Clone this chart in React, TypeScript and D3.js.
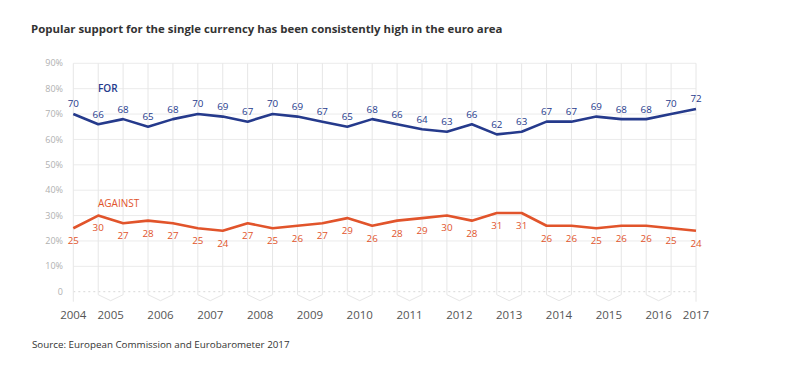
import React from "react";
import * as d3 from "d3";

const years = ["2004","2005","2006","2007","2008","2009","2010","2011","2012","2013","2014","2015","2016","2017"];
const forValues = [70,66,68,65,68,70,69,67,70,69,67,65,68,66,64,63,66,62,63,67,67,69,68,68,70,72];
const againstValues = [25,30,27,28,27,25,24,27,25,26,27,29,26,28,29,30,28,31,31,26,26,25,26,26,25,24];
const yTicks = [0,10,20,30,40,50,60,70,80,90];

const FONT = "'Open Sans', 'Noto Sans', sans-serif";
const BLUE = "#253a8c";
const ORANGE = "#e1542b";

export default function App() {
  const W = 800, H = 388;
  const n = forValues.length;
  const x = d3.scaleLinear().domain([0, n - 1]).range([73.3, 696]);
  const y = d3.scaleLinear().domain([0, 90]).range([291.7, 63.3]);
  const idx = d3.range(n);
  const line = d3.line<number>().x((_, i) => x(i)).y(d => y(d));

  const yearPos = (k: number) => {
    if (k === 0) return x(0);
    if (k === years.length - 1) return x(n - 1);
    return (x(2 * k - 1) + x(2 * k)) / 2;
  };

  const base = y(0);
  return (
    <svg width={W} height={H} style={{ position: "absolute", left: 0, top: 0, background: "#fff" }} fontFamily={FONT}>
      <text x={31} y={33} fontSize={11.4} fontWeight={700} fill="#333">
        Popular support for the single currency has been consistently high in the euro area
      </text>
      {/* horizontal grid */}
      {yTicks.map(t => (
        <g key={t}>
          <line x1={x(0)} x2={x(n - 1)} y1={y(t)} y2={y(t)}
            stroke={t === 0 ? "#d8d8d8" : "#ebebeb"} strokeWidth={1}
            strokeDasharray={t === 0 ? "2,3" : undefined} />
          <text x={63} y={y(t)} dy="0.35em" textAnchor="end" fontSize={9} fill="#b0b0b0">
            {t === 0 ? "0" : `${t}%`}
          </text>
        </g>
      ))}
      {/* vertical grid */}
      {idx.map(i => (
        <line key={i} x1={x(i)} x2={x(i)} y1={y(90)} y2={i === 0 || i === n - 1 ? base + 10 : base + 3}
          stroke="#e6e6e6" strokeWidth={1} />
      ))}
      {/* chevrons */}
      {years.slice(1, years.length - 1).map((_, j) => {
        const k = j + 1;
        const a = x(2 * k - 1), b = x(2 * k), m = (a + b) / 2;
        return (
          <path key={k} d={`M${a},${base + 3}L${m},${base + 9}L${b},${base + 3}`}
            fill="none" stroke="#e6e6e6" strokeWidth={1} />
        );
      })}
      {/* year labels */}
      {years.map((yr, k) => (
        <text key={yr} x={yearPos(k)} y={319} textAnchor="middle" fontSize={11.5} fill="#555">{yr}</text>
      ))}
      {/* lines */}
      <path d={line(forValues) || ""} fill="none" stroke={BLUE} strokeWidth={2.6} strokeLinejoin="round" />
      <path d={line(againstValues) || ""} fill="none" stroke={ORANGE} strokeWidth={2.6} strokeLinejoin="round" />
      {/* data labels */}
      {forValues.map((v, i) => (
        <text key={"f" + i} x={x(i)} y={y(v) - 10} dy="0.35em" textAnchor="middle" fontSize={9.8} fill={BLUE}>{v}</text>
      ))}
      {againstValues.map((v, i) => (
        <text key={"a" + i} x={x(i)} y={y(v) + 12.5} dy="0.35em" textAnchor="middle" fontSize={9.8} fill={ORANGE}>{v}</text>
      ))}
      <text x={98} y={88} dy="0.35em" fontSize={10} fontWeight={600} fill={BLUE}>FOR</text>
      <text x={98} y={203} dy="0.35em" fontSize={10} fill={ORANGE}>AGAINST</text>
      <text x={32} y={345} dy="0.35em" fontSize={9.8} fill="#333">Source: European Commission and Eurobarometer 2017</text>
    </svg>
  );
}
